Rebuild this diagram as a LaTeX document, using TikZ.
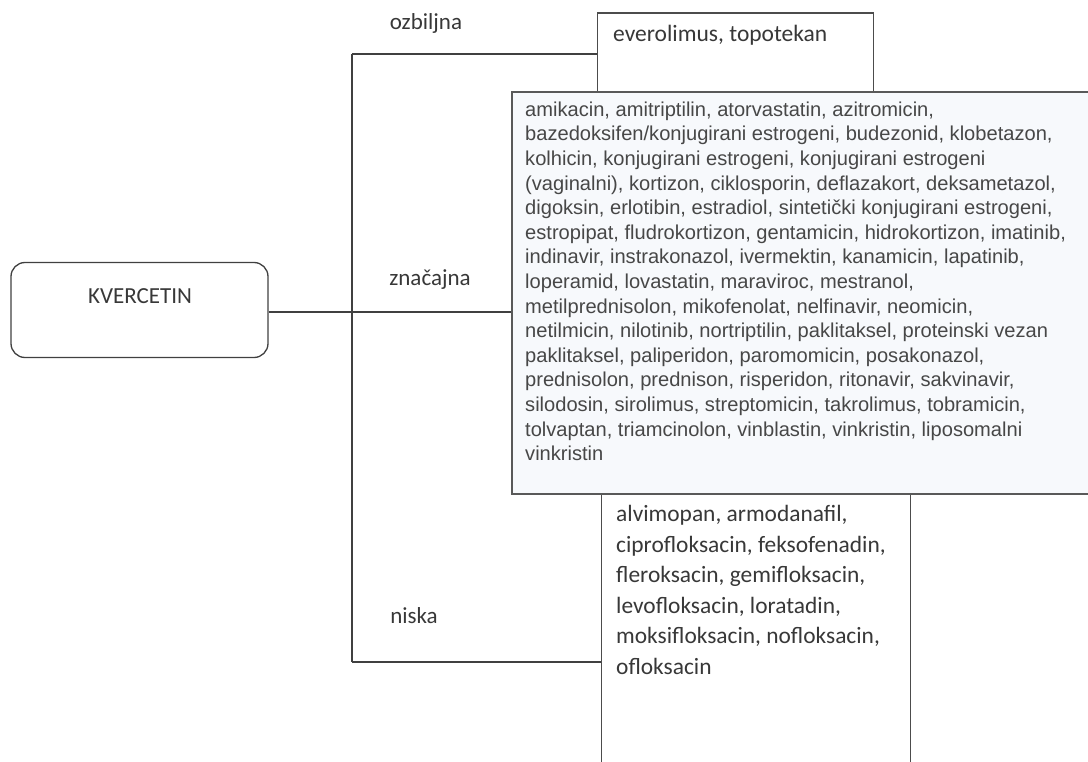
\documentclass[tikz,border=0pt]{standalone}
\usepackage{fontspec}
\setmainfont{Carlito}
\newfontfamily\arialf{Liberation Sans}
\begin{document}
\begin{tikzpicture}[x=1pt,y=-1pt,
  line/.style={draw=black!75, line width=1.1pt},
  boxln/.style={draw=black!70, line width=1.4pt},
  lbl/.style={font=\fontsize{23}{27}\selectfont, text=black!78, inner sep=0pt, anchor=base},
]
\useasboundingbox (0,0) rectangle (1088,762);
\clip (0,0) rectangle (1088,762);
% root
\node[draw=black!75, line width=1.3pt, rounded corners=14pt, minimum width=257pt, minimum height=95pt, inner sep=0pt] (root) at (139.5,310) {};
\node[font=\fontsize{23}{27}\selectfont, text=black!78, inner sep=0pt, anchor=base] (roottxt) at (140,304) {KVERCETIN};
% junction coordinates
\coordinate (jt) at (352,54);
\coordinate (jm) at (352,312);
\coordinate (jb) at (352,662);
% top box
\node[boxln, fill=white, minimum width=276pt, minimum height=160pt, inner sep=0pt, anchor=north west] (top) at (597,12.5) {};
\node[font=\fontsize{23.5}{28}\selectfont, text=black!78, anchor=base west, inner sep=0pt] (toptxt) at (613,42) {everolimus, topotekan};
% bottom box
\node[boxln, fill=white, minimum width=309pt, minimum height=360pt, inner sep=0pt, anchor=north west] (bot) at (601,440) {};
% middle box
\node[draw=black!65, line width=1.6pt, fill={rgb,255:red,247;green,249;blue,252}, minimum width=620pt, minimum height=402pt, inner sep=0pt, anchor=north west] (mid) at (511,91) {};
\node[anchor=north west, inner sep=0pt, align=left, text=black!72,
  font=\arialf\fontsize{20.1}{24.6}\selectfont] (midtxt) at (525,101.5) {%
amikacin, amitriptilin, atorvastatin, azitromicin,\\
bazedoksifen/konjugirani estrogeni, budezonid, klobetazon,\\
kolhicin, konjugirani estrogeni, konjugirani estrogeni\\
(vaginalni), kortizon, ciklosporin, deflazakort, deksametazol,\\
digoksin, erlotibin, estradiol, sintetički konjugirani estrogeni,\\
estropipat, fludrokortizon, gentamicin, hidrokortizon, imatinib,\\
indinavir, instrakonazol, ivermektin, kanamicin, lapatinib,\\
loperamid, lovastatin, maraviroc, mestranol,\\
metilprednisolon, mikofenolat, nelfinavir, neomicin,\\
netilmicin, nilotinib, nortriptilin, paklitaksel, proteinski vezan\\
paklitaksel, paliperidon, paromomicin, posakonazol,\\
prednisolon, prednison, risperidon, ritonavir, sakvinavir,\\
silodosin, sirolimus, streptomicin, takrolimus, tobramicin,\\
tolvaptan, triamcinolon, vinblastin, vinkristin, liposomalni\\
vinkristin};
\node[anchor=north west, inner sep=0pt, align=left, text=black!78,
  font=\fontsize{23.4}{30.6}\selectfont] (bottxt) at (616,505) {%
alvimopan, armodanafil,\\
ciprofloksacin, feksofenadin,\\
fleroksacin, gemifloksacin,\\
levofloksacin, loratadin,\\
moksifloksacin, nofloksacin,\\
ofloksacin};
% connectors
\draw[line] (root.east |- jm) -- (jm);
\draw[line] (jt) -- (jb);
\draw[line] (jt) -- (jt -| top.west);
\draw[line] (jm) -- (jm -| mid.west);
\draw[line] (jb) -- (jb -| bot.west);
% labels
\node[lbl] (l1) at (426,30) {ozbiljna};
\node[lbl] (l2) at (430,286) {značajna};
\node[lbl] (l3) at (414,623) {niska};
\end{tikzpicture}
\end{document}
